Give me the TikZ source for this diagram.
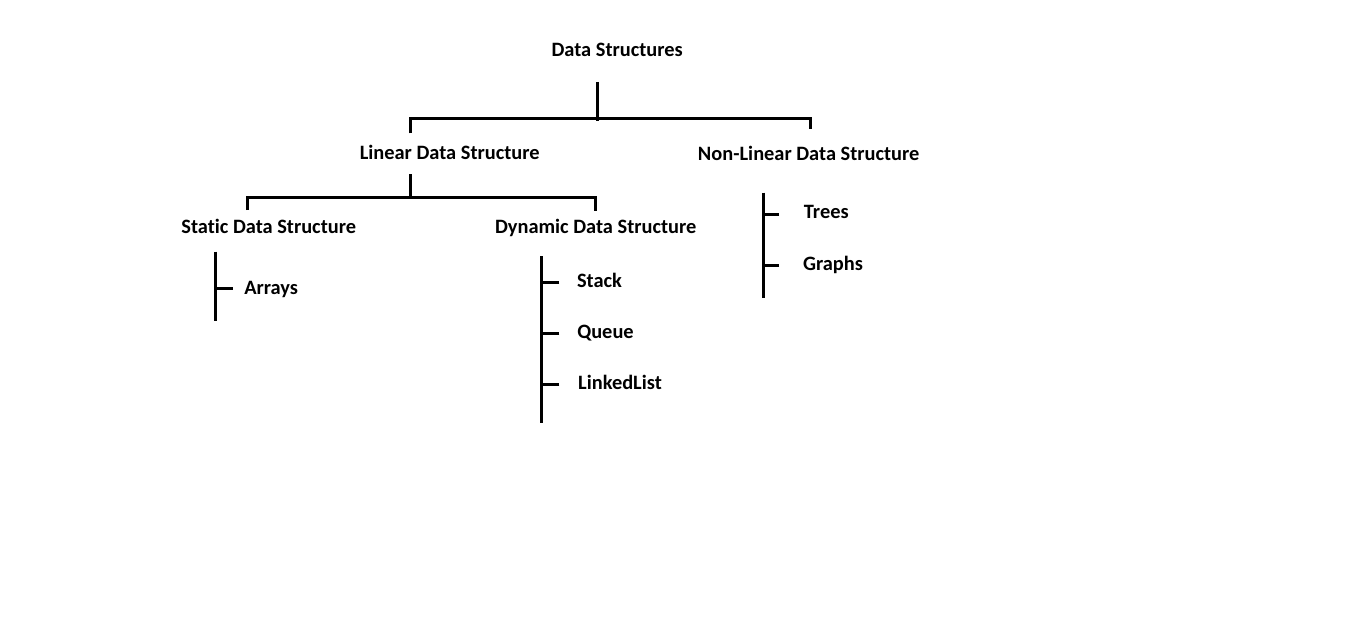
\documentclass[tikz,border=0pt]{standalone}
\usepackage{fontspec}
\setmainfont[Ligatures={NoCommon,NoDiscretionary}]{Carlito}
\begin{document}
\begin{tikzpicture}[x=1pt,y=-1pt,
  lbl/.style={font=\bfseries\fontsize{20.4}{24}\selectfont, inner sep=0pt, anchor=base, text=black},
  conn/.style={draw=black, line width=3pt, line join=miter}]
\useasboundingbox[fill=white] (0,0) rectangle (1360,618);
% labels
\node[lbl] (ds) at (617.2,56.7) {Data Structures};
\node[lbl] (lin) at (449.7,159.3) {Linear Data Structure};
\node[lbl] (nonlin) at (808.7,160) {Non-Linear Data Structure};
\node[lbl] (stat) at (268.7,233.3) {Static Data Structure};
\node[lbl] (dyn) at (595.7,233.3) {Dynamic Data Structure};
\node[lbl] (arr) at (271.2,294) {Arrays};
\node[lbl] (trees) at (826.3,218.8) {Trees};
\node[lbl] (graphs) at (833,270.5) {Graphs};
\node[lbl] (stack) at (599.5,287.5) {Stack};
\node[lbl] (queue) at (605.5,338.8) {Queue};
\node[lbl] (ll) at (620,389.8) {LinkedList};
% junction coordinates
\coordinate (dsTop) at (597.3,82);
\coordinate (dsJ) at (597.3,120.7);
\coordinate (topBar) at (597.3,118.5);
\coordinate (linTop) at (410,133.3);
\coordinate (nonTop) at (810,129.3);
\coordinate (linBot) at (410,174);
\coordinate (linJ) at (410,199.3);
\coordinate (linBar) at (410,197.5);
\coordinate (statTop) at (247.3,210);
\coordinate (dynTop) at (595,210.7);
\coordinate (arrTop) at (215,251.7);
\coordinate (arrBot) at (215,320.7);
\coordinate (arrT) at (232.7,288.3);
\coordinate (dynBTop) at (541,256);
\coordinate (dynBBot) at (541,423.3);
\coordinate (stT) at (559.3,282.3);
\coordinate (quT) at (559.3,333.3);
\coordinate (llT) at (559.3,384);
\coordinate (nonBTop) at (763.3,192.7);
\coordinate (nonBBot) at (763.3,298.3);
\coordinate (trT) at (779,214.3);
\coordinate (grT) at (779,265.7);
% connectors
\draw[conn] (dsTop) -- (dsJ);
\draw[conn] (linTop) |- (topBar) -| (nonTop);
\draw[conn] (linBot) -- (linJ);
\draw[conn] (statTop) |- (linBar) -| (dynTop);
\draw[conn] (arrTop) -- (arrBot);
\draw[conn] (arrT) -- (arrT -| arrTop);
\draw[conn] (dynBTop) -- (dynBBot);
\draw[conn] (stT) -- (stT -| dynBTop);
\draw[conn] (quT) -- (quT -| dynBTop);
\draw[conn] (llT) -- (llT -| dynBTop);
\draw[conn] (nonBTop) -- (nonBBot);
\draw[conn] (trT) -- (trT -| nonBTop);
\draw[conn] (grT) -- (grT -| nonBTop);
\end{tikzpicture}
\end{document}
